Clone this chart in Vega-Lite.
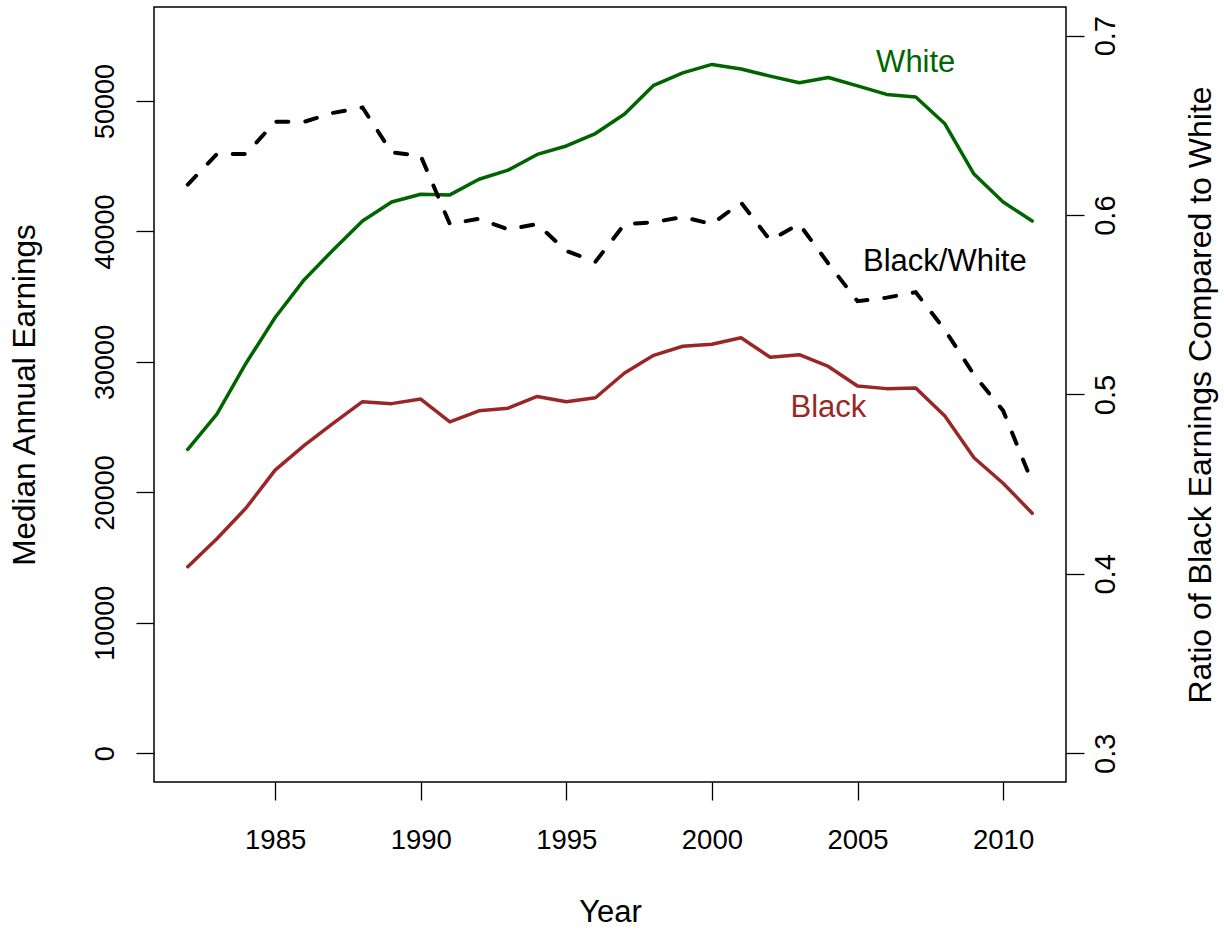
{
  "$schema": "https://vega.github.io/schema/vega-lite/v6.json",
  "width": 912,
  "height": 775,
  "autosize": {"type": "none"},
  "padding": {"left": 154, "top": 7, "right": 158, "bottom": 150},
  "background": "white",
  "config": {
    "view": {"stroke": "black", "strokeWidth": 1.5},
    "font": "Liberation Sans",
    "axis": {
      "domain": false,
      "grid": false,
      "ticks": true,
      "tickColor": "black",
      "tickWidth": 1.3,
      "tickSize": 18,
      "labelColor": "black",
      "titleColor": "black",
      "labelFont": "Liberation Sans",
      "titleFont": "Liberation Sans",
      "titleFontWeight": "normal",
      "labelOverlap": false,
      "labelBound": false,
      "labelFlush": false
    }
  },
  "datasets": {
    "earnings": [
      {"year": 1982, "group": "White", "earnings": 23300},
      {"year": 1983, "group": "White", "earnings": 26000},
      {"year": 1984, "group": "White", "earnings": 29900},
      {"year": 1985, "group": "White", "earnings": 33400},
      {"year": 1986, "group": "White", "earnings": 36300},
      {"year": 1987, "group": "White", "earnings": 38600},
      {"year": 1988, "group": "White", "earnings": 40800},
      {"year": 1989, "group": "White", "earnings": 42250},
      {"year": 1990, "group": "White", "earnings": 42850},
      {"year": 1991, "group": "White", "earnings": 42800},
      {"year": 1992, "group": "White", "earnings": 44000},
      {"year": 1993, "group": "White", "earnings": 44700},
      {"year": 1994, "group": "White", "earnings": 45900},
      {"year": 1995, "group": "White", "earnings": 46550},
      {"year": 1996, "group": "White", "earnings": 47500},
      {"year": 1997, "group": "White", "earnings": 49000},
      {"year": 1998, "group": "White", "earnings": 51200},
      {"year": 1999, "group": "White", "earnings": 52150},
      {"year": 2000, "group": "White", "earnings": 52800},
      {"year": 2001, "group": "White", "earnings": 52450},
      {"year": 2002, "group": "White", "earnings": 51900},
      {"year": 2003, "group": "White", "earnings": 51400},
      {"year": 2004, "group": "White", "earnings": 51800},
      {"year": 2005, "group": "White", "earnings": 51150},
      {"year": 2006, "group": "White", "earnings": 50500},
      {"year": 2007, "group": "White", "earnings": 50300},
      {"year": 2008, "group": "White", "earnings": 48250},
      {"year": 2009, "group": "White", "earnings": 44400},
      {"year": 2010, "group": "White", "earnings": 42250},
      {"year": 2011, "group": "White", "earnings": 40800},
      {"year": 1982, "group": "Black", "earnings": 14300},
      {"year": 1983, "group": "Black", "earnings": 16450},
      {"year": 1984, "group": "Black", "earnings": 18800},
      {"year": 1985, "group": "Black", "earnings": 21700},
      {"year": 1986, "group": "Black", "earnings": 23600},
      {"year": 1987, "group": "Black", "earnings": 25300},
      {"year": 1988, "group": "Black", "earnings": 26950},
      {"year": 1989, "group": "Black", "earnings": 26800},
      {"year": 1990, "group": "Black", "earnings": 27150},
      {"year": 1991, "group": "Black", "earnings": 25400},
      {"year": 1992, "group": "Black", "earnings": 26250},
      {"year": 1993, "group": "Black", "earnings": 26450},
      {"year": 1994, "group": "Black", "earnings": 27350},
      {"year": 1995, "group": "Black", "earnings": 26950},
      {"year": 1996, "group": "Black", "earnings": 27250},
      {"year": 1997, "group": "Black", "earnings": 29150},
      {"year": 1998, "group": "Black", "earnings": 30500},
      {"year": 1999, "group": "Black", "earnings": 31200},
      {"year": 2000, "group": "Black", "earnings": 31350},
      {"year": 2001, "group": "Black", "earnings": 31850},
      {"year": 2002, "group": "Black", "earnings": 30350},
      {"year": 2003, "group": "Black", "earnings": 30550},
      {"year": 2004, "group": "Black", "earnings": 29650},
      {"year": 2005, "group": "Black", "earnings": 28150},
      {"year": 2006, "group": "Black", "earnings": 27950},
      {"year": 2007, "group": "Black", "earnings": 28000},
      {"year": 2008, "group": "Black", "earnings": 25850},
      {"year": 2009, "group": "Black", "earnings": 22650},
      {"year": 2010, "group": "Black", "earnings": 20700},
      {"year": 2011, "group": "Black", "earnings": 18400}
    ],
    "ratio": [
      {"year": 1982, "ratio": 0.617},
      {"year": 1983, "ratio": 0.634},
      {"year": 1984, "ratio": 0.634},
      {"year": 1985, "ratio": 0.652},
      {"year": 1986, "ratio": 0.652},
      {"year": 1987, "ratio": 0.657},
      {"year": 1988, "ratio": 0.660},
      {"year": 1989, "ratio": 0.635},
      {"year": 1990, "ratio": 0.633},
      {"year": 1991, "ratio": 0.595},
      {"year": 1992, "ratio": 0.598},
      {"year": 1993, "ratio": 0.592},
      {"year": 1994, "ratio": 0.595},
      {"year": 1995, "ratio": 0.580},
      {"year": 1996, "ratio": 0.574},
      {"year": 1997, "ratio": 0.595},
      {"year": 1998, "ratio": 0.596},
      {"year": 1999, "ratio": 0.599},
      {"year": 2000, "ratio": 0.595},
      {"year": 2001, "ratio": 0.607},
      {"year": 2002, "ratio": 0.586},
      {"year": 2003, "ratio": 0.595},
      {"year": 2004, "ratio": 0.573},
      {"year": 2005, "ratio": 0.552},
      {"year": 2006, "ratio": 0.554},
      {"year": 2007, "ratio": 0.557},
      {"year": 2008, "ratio": 0.536},
      {"year": 2009, "ratio": 0.511},
      {"year": 2010, "ratio": 0.491},
      {"year": 2011, "ratio": 0.451}
    ],
    "labels": [
      {"label": "White", "year": 2007, "earnings": 52900},
      {"label": "Black/White", "year": 2008, "earnings": 37650},
      {"label": "Black", "year": 2004, "earnings": 26500}
    ]
  },
  "layer": [
    {
      "layer": [
        {
          "data": {"name": "earnings"},
          "mark": {"type": "line", "strokeWidth": 3.5, "strokeJoin": "round", "strokeCap": "round"},
          "encoding": {
            "x": {
              "field": "year",
              "type": "quantitative",
              "scale": {"domain": [1980.84, 2012.16], "nice": false, "zero": false},
              "axis": {
                "values": [1985, 1990, 1995, 2000, 2005, 2010],
                "format": "d",
                "labelFontSize": 27.5,
                "labelPadding": 26,
                "labelBaseline": "top",
                "title": "Year",
                "titleFontSize": 31,
                "titleX": 456,
                "titleY": 130,
                "titleAlign": "center",
                "titleBaseline": "middle"
              }
            },
            "y": {
              "field": "earnings",
              "type": "quantitative",
              "scale": {"domain": [-2200, 57200], "nice": false, "zero": false},
              "axis": {
                "values": [0, 10000, 20000, 30000, 40000, 50000],
                "format": "d",
                "labelAngle": -90,
                "labelAlign": "center",
                "labelBaseline": "alphabetic",
                "labelPadding": 23,
                "labelFontSize": 27,
                "title": "Median Annual Earnings",
                "titleFontSize": 31.5,
                "titleAngle": -90,
                "titleX": -120,
                "titleY": 387.5,
                "titleAlign": "center",
                "titleBaseline": "alphabetic"
              }
            },
            "color": {
              "field": "group",
              "type": "nominal",
              "scale": {"domain": ["White", "Black", "Black/White"], "range": ["#006400", "#982828", "#000000"]},
              "legend": null
            },
            "detail": {"field": "group"}
          }
        },
        {
          "data": {"name": "labels"},
          "mark": {"type": "text", "fontSize": 31, "align": "center", "baseline": "middle", "font": "Liberation Sans"},
          "encoding": {
            "x": {"field": "year", "type": "quantitative"},
            "y": {"field": "earnings", "type": "quantitative"},
            "text": {"field": "label"},
            "color": {"field": "label", "type": "nominal", "legend": null}
          }
        }
      ]
    },
    {
      "data": {"name": "ratio"},
      "mark": {"type": "line", "strokeWidth": 4, "strokeDash": [12, 17], "strokeCap": "round", "color": "black"},
      "encoding": {
        "x": {"field": "year", "type": "quantitative"},
        "y": {
          "field": "ratio",
          "type": "quantitative",
          "scale": {"domain": [0.284, 0.716], "nice": false, "zero": false},
          "axis": {
            "orient": "right",
            "values": [0.3, 0.4, 0.5, 0.6, 0.7],
            "format": ".1f",
            "labelAngle": -90,
            "labelAlign": "center",
            "labelBaseline": "top",
            "labelPadding": 7,
            "labelFontSize": 29,
            "title": "Ratio of Black Earnings Compared to White",
            "titleFontSize": 32,
            "titleAngle": -90,
            "titleX": 134,
            "titleY": 387.5,
            "titleAlign": "center",
            "titleBaseline": "middle"
          }
        }
      }
    }
  ],
  "resolve": {"scale": {"y": "independent"}}
}
